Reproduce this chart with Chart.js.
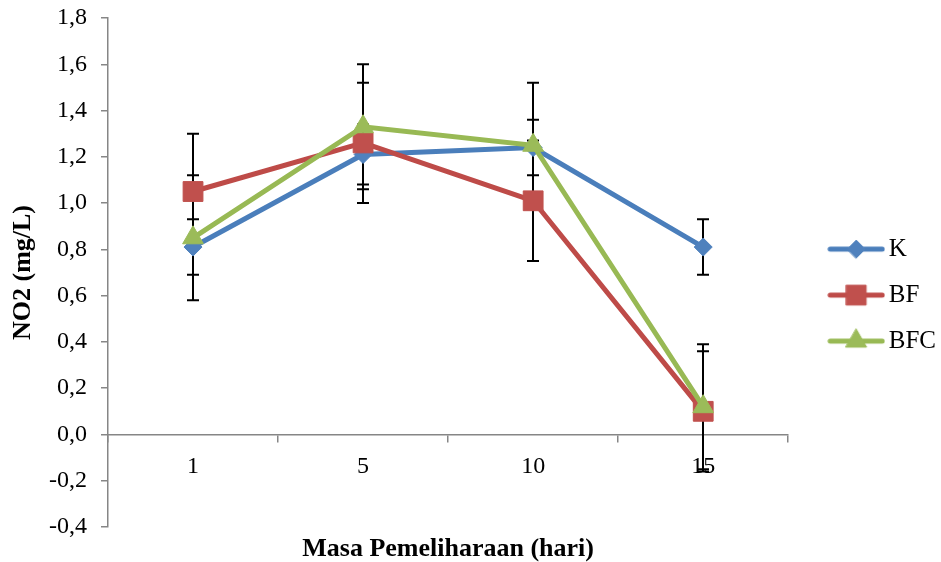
<!DOCTYPE html>
<html><head><meta charset="utf-8">
<script src="https://cdn.jsdelivr.net/npm/chart.js@4/dist/chart.umd.min.js"></script>
<style>html,body{margin:0;padding:0;background:#fff}</style>
</head><body>
<canvas id="c" width="941" height="562"></canvas>
<script>
// ---- data ----
const categories = ['1', '5', '10', '15'];
const seriesNames = ['K', 'BF', 'BFC'];
const kValues   = [0.81, 1.21, 1.24, 0.81];
const bfValues  = [1.05, 1.26, 1.01, 0.10];
const bfcValues = [0.85, 1.33, 1.25, 0.12];
const kErrors   = [0.12, 0.13, 0.12, 0.12];
const bfErrors  = [0.25, 0.26, 0.26, 0.26];
const bfcErrors = [0.27, 0.27, 0.27, 0.27];
const yMin = -0.4, yMax = 1.8, yStep = 0.2;
const xTitle = 'Masa Pemeliharaan (hari)';
const yTitle = 'NO2 (mg/L)';

const FONT = "'Liberation Serif', 'Times New Roman', serif";
const lineColors = ['#4A7EBB', '#BE4B48', '#98B954'];
const markColors = ['#4F81BD', '#C0504D', '#9BBB59'];
const styles = ['rectRot', 'rect', 'triangle'];
const radii = [9, 14, 12];
const valueSets = [kValues, bfValues, bfcValues];
const errorSets = [kErrors, bfErrors, bfcErrors];

function legendImage(i) {
  const c = document.createElement('canvas');
  c.width = 58; c.height = 26;
  const g = c.getContext('2d');
  g.strokeStyle = lineColors[i]; g.lineWidth = 5; g.lineCap = 'round';
  g.beginPath(); g.moveTo(3, 13); g.lineTo(55, 13); g.stroke();
  g.fillStyle = markColors[i]; g.strokeStyle = markColors[i]; g.lineWidth = 1;
  Chart.helpers.drawPoint(g, {pointStyle: styles[i], radius: radii[i], borderWidth: 1, rotation: 0}, 29, 13);
  return c;
}
const legendImgs = seriesNames.map((_, i) => legendImage(i));

const errorBarPlugin = {
  id: 'errorBars',
  beforeDatasetsDraw(chart) {
    const {ctx, scales: {x, y}} = chart;
    ctx.save();
    ctx.strokeStyle = '#000';
    ctx.lineWidth = 2;
    valueSets.forEach((vals, i) => {
      vals.forEach((v, j) => {
        const px = Math.round(x.getPixelForValue(j));
        const top = y.getPixelForValue(v + errorSets[i][j]);
        const bot = y.getPixelForValue(v - errorSets[i][j]);
        ctx.beginPath();
        ctx.moveTo(px, top); ctx.lineTo(px, bot);
        ctx.moveTo(px - 6, top); ctx.lineTo(px + 6, top);
        ctx.moveTo(px - 6, bot); ctx.lineTo(px + 6, bot);
        ctx.stroke();
      });
    });
    ctx.restore();
  }
};

const datasets = seriesNames.map((name, i) => ({
  label: name,
  data: valueSets[i],
  yAxisID: 'y',
  borderColor: lineColors[i],
  backgroundColor: markColors[i],
  pointBackgroundColor: markColors[i],
  pointBorderColor: markColors[i],
  pointBorderWidth: 1,
  borderWidth: 5,
  pointStyle: styles[i],
  pointRadius: radii[i],
  pointHoverRadius: radii[i],
  tension: 0,
  fill: false,
  order: 2 - i
}));

new Chart(document.getElementById('c'), {
  type: 'line',
  data: {labels: categories, datasets},
  plugins: [errorBarPlugin],
  options: {
    responsive: false,
    animation: false,
    devicePixelRatio: 1,
    layout: {padding: {top: 18, left: 0, right: -5, bottom: 0}},
    scales: {
      x: {
        type: 'category',
        offset: true,
        position: {y: 0},
        afterFit: s => { s.height = 0; },
        grid: {display: true, offset: true, drawOnChartArea: false, drawTicks: true, tickLength: 7, color: '#868686', lineWidth: 1.5},
        border: {display: true, color: '#868686', width: 1.5},
        ticks: {color: '#000', font: {family: FONT, size: 24}, padding: 10.5, maxRotation: 0}
      },
      y: {
        type: 'linear',
        position: 'left',
        min: yMin, max: yMax,
        afterFit: s => { s.width = 108; s.paddingTop = 0; s.paddingBottom = 0; },
        grid: {display: true, drawOnChartArea: false, drawTicks: true, tickLength: 7, color: '#868686', lineWidth: 1.5},
        border: {display: true, color: '#868686', width: 1.5},
        ticks: {
          stepSize: yStep, color: '#000', font: {family: FONT, size: 24}, padding: 14,
          callback: v => (Math.abs(v) < 1e-9 ? 0 : v).toFixed(1).replace('.', ',')
        },
        title: {display: true, text: yTitle, color: '#000', font: {family: FONT, size: 26, weight: 'bold', lineHeight: 1.2}, padding: {top: 8, bottom: 0}}
      },
      gap: {
        type: 'linear', position: 'right', display: true,
        grid: {display: false, drawTicks: false}, border: {display: false},
        ticks: {display: false},
        afterFit: s => { s.width = 27; }
      }
    },
    plugins: {
      tooltip: {enabled: false},
      title: {
        display: true, position: 'bottom', fullSize: false, text: xTitle, color: '#000',
        font: {family: FONT, size: 26, weight: 'bold', lineHeight: 1.0}, padding: {top: 9, bottom: 0}
      },
      legend: {
        display: true, position: 'right', align: 'center',
        title: {display: true, text: '', font: {size: 1}, padding: {top: 9, bottom: 0}},
        labels: {
          usePointStyle: true, pointStyleWidth: 40, padding: 21, color: '#000',
          font: {family: FONT, size: 25},
          generateLabels: chart => chart.data.datasets.map((ds, i) => ({
            text: ds.label, pointStyle: legendImgs[i], fillStyle: markColors[i], strokeStyle: markColors[i],
            lineWidth: 0, hidden: false, datasetIndex: i, fontColor: '#000'
          }))
        }
      }
    }
  }
});
</script>
</body></html>
